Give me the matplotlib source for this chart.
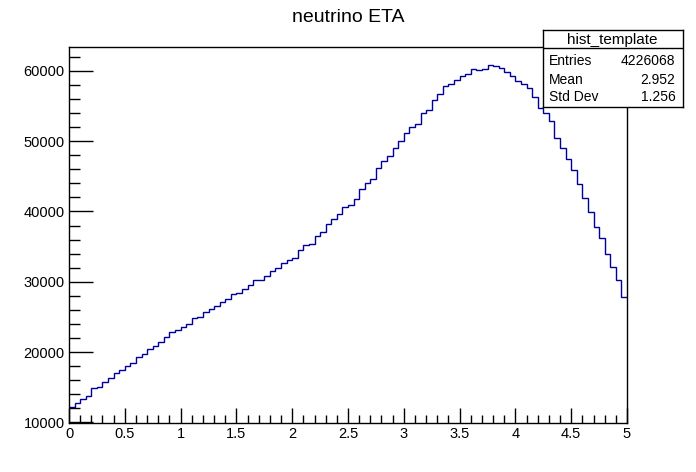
import numpy as np
import matplotlib
matplotlib.use("Agg")
import matplotlib.pyplot as plt
from matplotlib.ticker import MultipleLocator

plt.rcParams['font.family'] = ['Liberation Sans', 'DejaVu Sans']

title = "neutrino ETA"
x_min, x_max, n_bins = 0.0, 5.0, 100
counts = [
    12130, 12760, 13330, 13800, 14940, 15080, 15790, 16310, 17030, 17500,
    18020, 18490, 19300, 19770, 20480, 20910, 21480, 22150, 22900, 23190,
    23570, 24000, 24850, 24990, 25750, 26170, 26600, 27130, 27550, 28310,
    28420, 28980, 29580, 30280, 30250, 30870, 31530, 32010, 32670, 33100,
    33380, 34570, 35230, 35370, 36510, 37080, 38220, 38930, 39640, 40640,
    40870, 41770, 43200, 44050, 44620, 46180, 47180, 47890, 49030, 50060,
    51190, 52020, 52440, 54010, 54450, 55880, 56760, 57920, 58080, 58750,
    59220, 59600, 60270, 60120, 60270, 60840, 60690, 60410, 59840, 59270,
    58610, 58180, 57520, 56280, 54720, 54060, 52820, 50450, 49030, 47460,
    45950, 43910, 41870, 39920, 37790, 36230, 34000, 32100, 30300, 27830,
]
stats_name = "hist_template"
stats_labels = ["Entries", "Mean", "Std Dev"]
stats_values = ["4226068", "2.952", "1.256"]
x_ticks = [0, 0.5, 1, 1.5, 2, 2.5, 3, 3.5, 4, 4.5, 5]
x_tick_labels = ["0", "0.5", "1", "1.5", "2", "2.5", "3", "3.5", "4", "4.5", "5"]
y_ticks = [10000, 20000, 30000, 40000, 50000, 60000]
y_tick_labels = ["10000", "20000", "30000", "40000", "50000", "60000"]

W, H = 696, 472
fig = plt.figure(figsize=(W / 100, H / 100), dpi=100)
ax = fig.add_axes([69 / W, 1 - 423 / H, (627 - 69) / W, (423 - 47) / H])

edges = np.linspace(x_min, x_max, n_bins + 1)
ax.stairs(counts, edges, baseline=None, color="#000099", linewidth=1.0)

ax.set_xlim(x_min, x_max)
ax.set_ylim(9900, 63400)
ax.set_xticks(x_ticks)
ax.set_xticklabels(x_tick_labels)
ax.set_yticks(y_ticks)
ax.set_yticklabels(y_tick_labels)
ax.xaxis.set_minor_locator(MultipleLocator(0.1))
ax.yaxis.set_minor_locator(MultipleLocator(2000))
ax.tick_params(axis='x', which='major', direction='in', length=11, width=1, labelsize=10.5, pad=3)
ax.tick_params(axis='x', which='minor', direction='in', length=5.5, width=1)
ax.tick_params(axis='y', which='major', direction='in', length=17, width=1, labelsize=10.5, pad=3)
ax.tick_params(axis='y', which='minor', direction='in', length=8, width=1)
for s in ax.spines.values():
    s.set_linewidth(1)
    s.set_color("black")

fig.text(348 / W, 1 - 18 / H, title, ha='center', va='center', fontsize=14)

# stats box
bx0, bx1, by0, by1 = 542.7, 682.7, 30, 107.3
sep = 48.3
box_ax = fig.add_axes([bx0 / W, 1 - by1 / H, (bx1 - bx0) / W, (by1 - by0) / H])
box_ax.set_xlim(bx0, bx1)
box_ax.set_ylim(by1, by0)
box_ax.set_xticks([])
box_ax.set_yticks([])
box_ax.set_facecolor("white")
for s in box_ax.spines.values():
    s.set_linewidth(1)
    s.set_color("black")
box_ax.axhline(sep, color="black", linewidth=1)
box_ax.text((bx0 + bx1) / 2, 40, stats_name, ha='center', va='center', fontsize=11)
rows_y = [60.7, 79.5, 97.3]
for lab, val, yy in zip(stats_labels, stats_values, rows_y):
    box_ax.text(549.3, yy, lab, ha='left', va='center', fontsize=10)
    box_ax.text(675.3, yy, val, ha='right', va='center', fontsize=10)

fig.savefig("out.png", dpi=100)
